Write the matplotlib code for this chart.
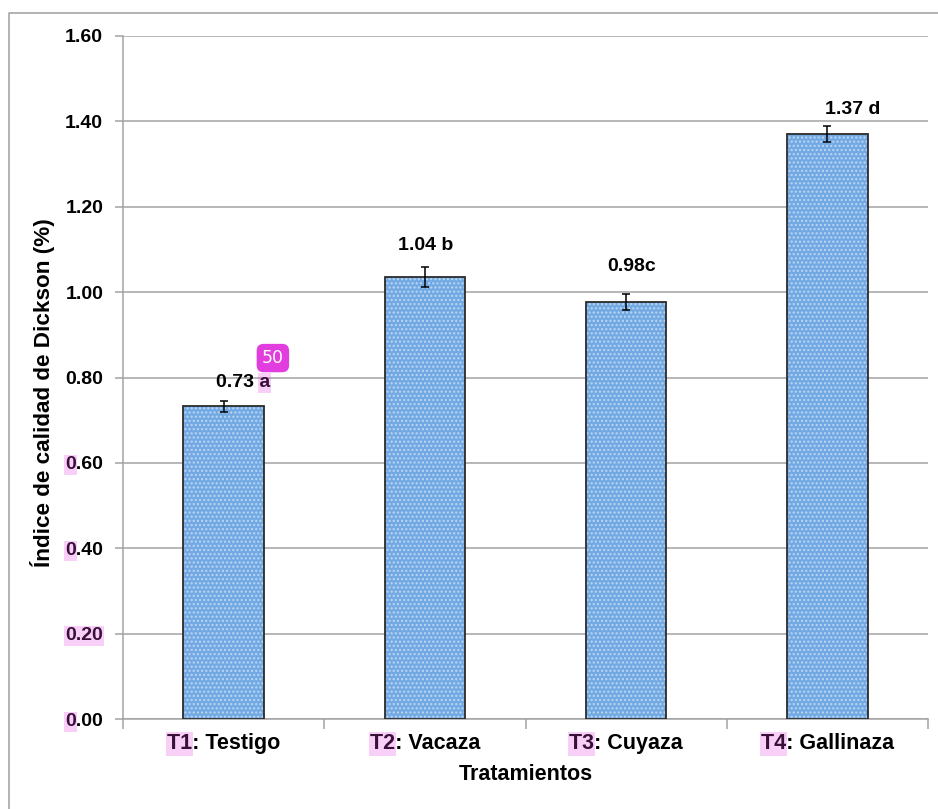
import matplotlib
matplotlib.use('Agg')
import matplotlib.pyplot as plt
from matplotlib.patches import Rectangle
from matplotlib.transforms import IdentityTransform
from matplotlib.lines import Line2D
import numpy as np

# ---------------- data ----------------
categories = ['T1: Testigo', 'T2: Vacaza', 'T3: Cuyaza', 'T4: Gallinaza']
values = [0.733, 1.035, 0.977, 1.370]
errors = [0.013, 0.023, 0.019, 0.018]
value_labels = ['0.73 a', '1.04 b', '0.98c', '1.37 d']
y_ticks = [0.0, 0.2, 0.4, 0.6, 0.8, 1.0, 1.2, 1.4, 1.6]
y_tick_labels = ['0.00', '0.20', '0.40', '0.60', '0.80', '1.00', '1.20', '1.40', '1.60']
y_label = 'Índice de calidad de Dickson (%)'
x_label = 'Tratamientos'

# label offsets (pixels) relative to error-bar top
label_offsets = [(19, 18), (1, 22), (5, 27), (25, 17)]

plt.rcParams['font.family'] = ['Liberation Sans', 'DejaVu Sans']
W, H = 938, 809
fig = plt.figure(figsize=(W / 100, H / 100), dpi=100)
fig.patch.set_facecolor('white')

ax = fig.add_axes([123 / W, 1 - 719 / H, (928 - 123) / W, (719 - 36) / H])
ax.patch.set_alpha(0)

grid_c = '#A3A3A3'
x = np.arange(len(categories))
ax.bar(x, values, width=0.4, color='#72A9E3', edgecolor='#BCD7F4', hatch='....',
       linewidth=0, zorder=2)
ax.bar(x, values, width=0.4, facecolor='none', edgecolor='#2b2b2b', linewidth=1.3, zorder=3)
ax.errorbar(x, values, yerr=errors, fmt='none', ecolor='black', elinewidth=1.1,
            capsize=3, capthick=1.1, zorder=4)

for xi, v, e, lab, off in zip(x, values, errors, value_labels, label_offsets):
    ax.annotate(lab, xy=(xi, v + e), xytext=off, textcoords='offset pixels',
                ha='center', va='center', fontsize=14, fontweight='bold', zorder=5)

ax.set_xlim(-0.5, len(categories) - 0.5)
ax.set_ylim(0, 1.6)
ax.set_yticks(y_ticks, y_tick_labels)
ax.yaxis.grid(True, color=grid_c, linewidth=1.1, zorder=0)
ax.set_axisbelow(True)

ax.set_xticks(np.arange(-0.5, len(categories), 1.0))
ax.set_xticklabels([])
ax.set_xticks(x, minor=True)
ax.set_xticklabels(categories, minor=True)

ax.tick_params(axis='x', which='major', length=7, color=grid_c, width=1.1)
ax.tick_params(axis='x', which='minor', length=0, pad=10, labelsize=15.5)
ax.tick_params(axis='y', length=6, color=grid_c, width=1.1, pad=8.3, labelsize=14)
for t in ax.get_xticklabels(minor=True) + ax.get_yticklabels():
    t.set_fontweight('bold')

for s in ['top', 'right']:
    ax.spines[s].set_visible(False)
for s in ['left', 'bottom']:
    ax.spines[s].set_color(grid_c)
    ax.spines[s].set_linewidth(1.1)

ax.set_ylabel(y_label, fontsize=16.2, fontweight='bold')
ax.yaxis.set_label_coords(-0.085, 0.478)
ax.set_xlabel(x_label, fontsize=15.5, fontweight='bold')
ax.xaxis.set_label_coords(0.5, -0.066)

# outer frame (open at right and bottom)
fig.add_artist(Line2D([8.5 / W, 8.5 / W, 1], [0, 1 - 12.5 / H, 1 - 12.5 / H],
                      transform=fig.transFigure, color='#A6A6A6', lw=1.2))

# ---------------- highlights ----------------
fig.canvas.draw()
renderer = fig.canvas.get_renderer()


def highlight(t, i, j):
    s = t.get_text()
    prop = t.get_fontproperties()
    bb = t.get_window_extent(renderer)
    w0 = renderer.get_text_width_height_descent(s[:i], prop, ismath=False)[0] if i > 0 else 0
    w1 = renderer.get_text_width_height_descent(s[:j], prop, ismath=False)[0]
    r = Rectangle((bb.x0 + w0 - 1, bb.y0 - 2), w1 - w0 + 2, bb.height + 3,
                  transform=IdentityTransform(), facecolor='#E040E0', alpha=0.25,
                  edgecolor='none', zorder=10)
    fig.add_artist(r)
    return r


ylabs = ax.get_yticklabels()
for t in ylabs:
    s = t.get_text()
    if s == '0.20':
        highlight(t, 0, 4)
    elif s in ('0.00', '0.40', '0.60'):
        highlight(t, 0, 1)
for t in ax.get_xticklabels(minor=True):
    highlight(t, 0, 2)

ann = [c for c in ax.texts if c.get_text() == value_labels[0]][0]
r = highlight(ann, 5, 6)
bx, by = r.get_x(), r.get_y() + r.get_height()
fig.text((bx + 4) / W, (by + 6) / H, '50', color='white', fontsize=12.5,
         ha='left', va='bottom', family=['DejaVu Sans'],
         bbox=dict(boxstyle='round,pad=0.3,rounding_size=0.4', fc='#E23DDF', ec='none'),
         zorder=11)

fig.savefig('out.png', dpi=100)
